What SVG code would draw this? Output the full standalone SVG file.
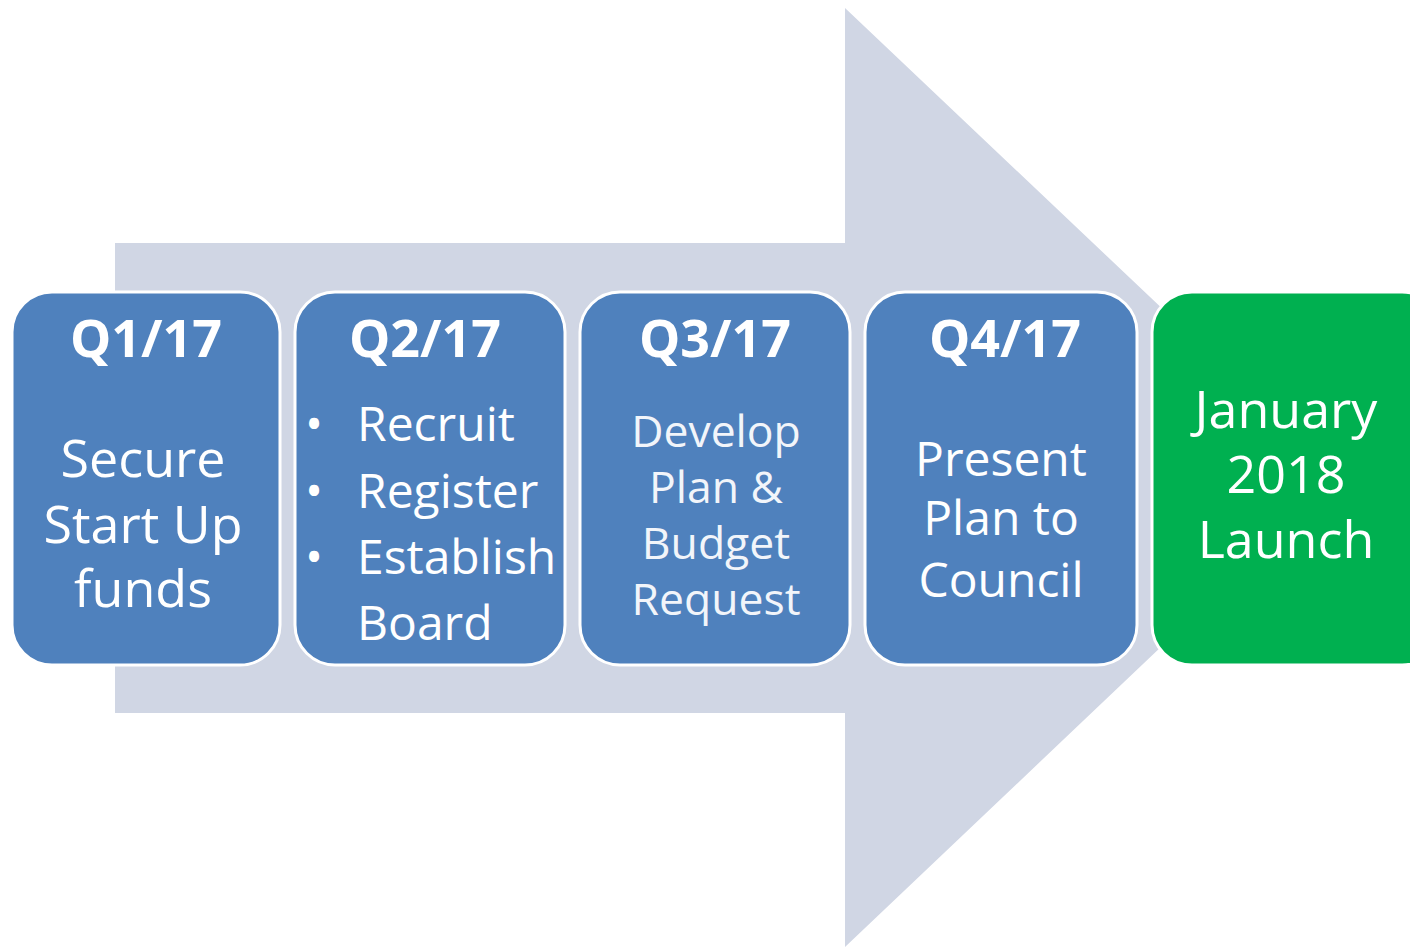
<svg xmlns="http://www.w3.org/2000/svg" width="1410" height="947" viewBox="0 0 1410 947">
<style>
.box{fill:#4F81BD;stroke:#FFFFFF;stroke-width:3}
.green{fill:#00B050;stroke:#FFFFFF;stroke-width:3}
.t{font-family:"Open Sans","Liberation Sans",sans-serif;fill:#FFFFFF;font-size:48px;text-anchor:middle}
.h{font-weight:bold;font-size:52px}
.b{font-size:52px}
.l{text-anchor:start}
.s{font-size:44.5px;fill:#F2F5FA}
</style>
<rect width="1410" height="947" fill="#FFFFFF"/>
<g id="arrow">
<polygon points="115,243 845,243 845,8 1340,477 845,947 845,713 115,713" fill="#D0D6E4"/>
</g>
<g id="connectors"/>
<g id="q1">
<rect class="box" x="12" y="292" width="268" height="373" rx="40"/>
<text class="t h" x="146" y="357">Q1/17</text>
<text class="t b" x="143" y="477">Secure</text>
<text class="t b" x="143" y="543">Start Up</text>
<text class="t b" x="143" y="607">funds</text>
</g>
<g id="q2">
<rect class="box" x="295" y="292" width="270" height="373" rx="40"/>
<text class="t h" x="425" y="357">Q2/17</text>
<text class="t l" x="305" y="441">•</text>
<text class="t l" x="305" y="508">•</text>
<text class="t l" x="305" y="574">•</text>
<text class="t l" x="357" y="441">Recruit</text>
<text class="t l" x="357" y="508">Register</text>
<text class="t l" x="357" y="574">Establish</text>
<text class="t l" x="357" y="640">Board</text>
</g>
<g id="q3">
<rect class="box" x="580" y="292" width="270" height="373" rx="40"/>
<text class="t h" x="715" y="357">Q3/17</text>
<text class="t s" x="716" y="447">Develop</text>
<text class="t s" x="716" y="503">Plan &amp;</text>
<text class="t s" x="716" y="559">Budget</text>
<text class="t s" x="716" y="615">Request</text>
</g>
<g id="q4">
<rect class="box" x="865" y="292" width="272" height="373" rx="40"/>
<text class="t h" x="1005" y="357">Q4/17</text>
<text class="t" x="1001" y="476">Present</text>
<text class="t" x="1001" y="535">Plan to</text>
<text class="t" x="1001" y="597">Council</text>
</g>
<g id="launch">
<rect class="green" x="1152" y="292" width="290" height="373" rx="40"/>
<text class="t b" x="1286" y="428">January</text>
<text class="t b" x="1286" y="493">2018</text>
<text class="t b" x="1286" y="558">Launch</text>
</g>
</svg>
